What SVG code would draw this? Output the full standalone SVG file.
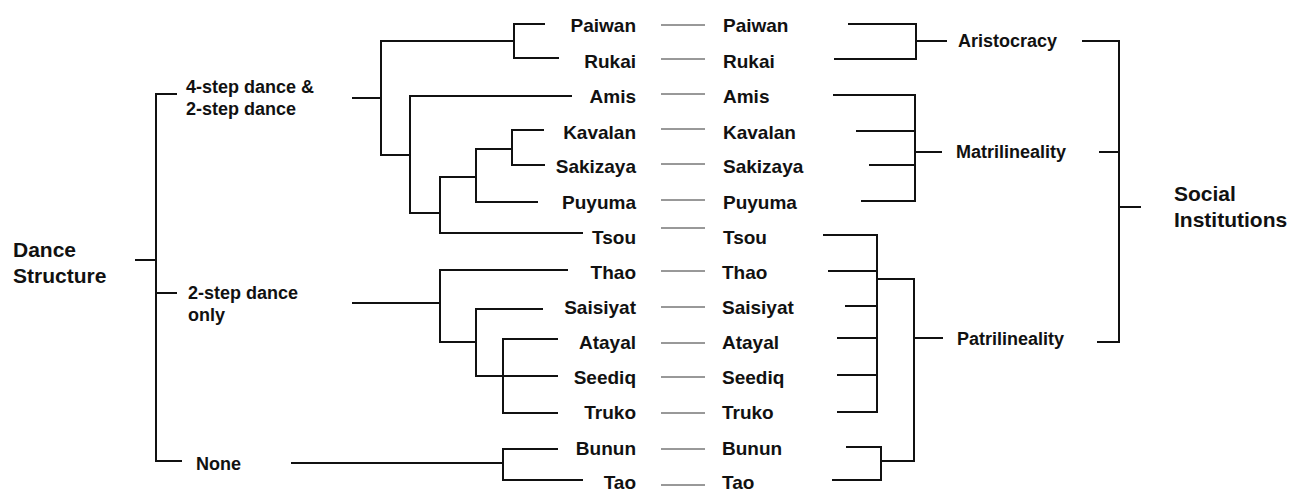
<svg xmlns="http://www.w3.org/2000/svg" width="1293" height="492" viewBox="0 0 1293 492">
<style>
text{font-family:"Liberation Sans",Arial,sans-serif;font-weight:bold;fill:#111}
.t{font-size:19px}
.r{text-anchor:end}
.c{font-size:18px}
.big{font-size:21px}
.br{fill:none;stroke:#111;stroke-width:2}
.thin{stroke:#333;stroke-width:1}
</style>
<rect width="1293" height="492" fill="#fff"/>
<g id="root-dance"><text class="big" x="13" y="257">Dance</text><text class="big" x="13" y="283">Structure</text></g>
<g id="cat-4step"><text class="c" x="186" y="93">4-step dance &amp;</text><text class="c" x="186" y="115">2-step dance</text></g>
<g id="cat-2step"><text class="c" x="188" y="299">2-step dance</text><text class="c" x="188" y="321">only</text></g>
<g id="cat-none"><text class="c" x="196" y="470">None</text></g>
<g id="left-tribes" class="t">
<text class="t r" x="636" y="32">Paiwan</text>
<text class="t r" x="636" y="68">Rukai</text>
<text class="t r" x="636" y="103">Amis</text>
<text class="t r" x="636" y="139">Kavalan</text>
<text class="t r" x="636" y="173">Sakizaya</text>
<text class="t r" x="636" y="209">Puyuma</text>
<text class="t r" x="636" y="244">Tsou</text>
<text class="t r" x="636" y="279">Thao</text>
<text class="t r" x="636" y="314">Saisiyat</text>
<text class="t r" x="636" y="349">Atayal</text>
<text class="t r" x="636" y="384">Seediq</text>
<text class="t r" x="636" y="419">Truko</text>
<text class="t r" x="636" y="455">Bunun</text>
<text class="t r" x="636" y="489">Tao</text>
</g>
<g id="right-tribes">
<text class="t" x="723" y="32">Paiwan</text>
<text class="t" x="723" y="68">Rukai</text>
<text class="t" x="723" y="103">Amis</text>
<text class="t" x="723" y="139">Kavalan</text>
<text class="t" x="723" y="173">Sakizaya</text>
<text class="t" x="723" y="209">Puyuma</text>
<text class="t" x="723" y="244">Tsou</text>
<text class="t" x="722" y="279">Thao</text>
<text class="t" x="722" y="314">Saisiyat</text>
<text class="t" x="722" y="349">Atayal</text>
<text class="t" x="722" y="384">Seediq</text>
<text class="t" x="722" y="419">Truko</text>
<text class="t" x="722" y="455">Bunun</text>
<text class="t" x="722" y="489">Tao</text>
</g>
<g id="inst-aristocracy"><text class="c" x="958" y="47">Aristocracy</text></g>
<g id="inst-matri"><text class="c" x="956" y="158">Matrilineality</text></g>
<g id="inst-patri"><text class="c" x="957" y="345">Patrilineality</text></g>
<g id="root-social"><text class="big" x="1174" y="201">Social</text><text class="big" x="1174" y="227">Institutions</text></g>
<g id="connectors">
<path class="br" d="M135,260H156M177,94H156V461H182M156,293H177"/>
<path class="br" d="M352,98H381M545,24H514V58H559M514,41H381V155H410M572,96H410V213H440M583,233H440V177H476M538,202H476V149H512M544,130H512V165H545"/>
<path class="br" d="M352,303H440M568,270H440V342H476M543,309H476V376H558M558,339H503V413H558"/>
<path class="br" d="M291,463H503M558,449H503V480H583"/>
<g class="thin">
<path d="M661,25H705M661,59H705M661,94H705M661,129H705M661,164H705M661,200H705M661,228H705M661,271H705M661,307H705M661,343H705M661,377H705M661,413H705M661,449H705M661,485H705"/>
</g>
<path class="br" d="M848,24H916V59H834M916,41H947"/>
<path class="br" d="M833,95H915V201H861M856,131H915M869,165H915M915,152H942"/>
<path class="br" d="M823,235H877V412H837M828,271H877M845,306H877M837,338H877M837,375H877M877,279H914V461H881M846,447H881V480H832M914,338H943"/>
<path class="br" d="M1082,41H1119V342H1097M1099,152H1119M1119,207H1141"/>
</g>
</svg>
